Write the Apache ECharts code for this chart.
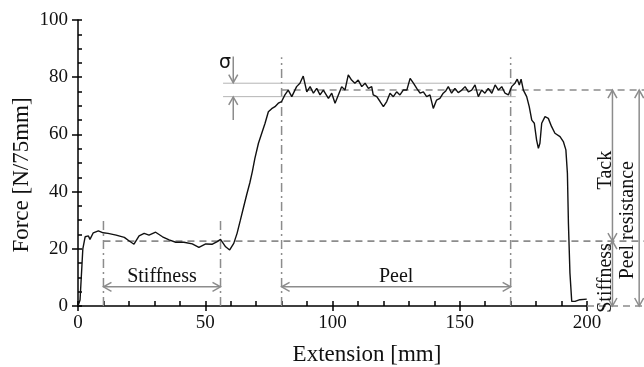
<!DOCTYPE html>
<html>
<head>
<meta charset="utf-8">
<script src="https://cdn.jsdelivr.net/npm/echarts@6/dist/echarts.min.js"></script>
<style>
  html, body { margin: 0; padding: 0; background: #fff; }
  #chart { width: 644px; height: 367px; }
</style>
</head>
<body>
<div id="chart"></div>
<script>
// peel test curve
const extension = [0, 0.8, 1.9, 2.8, 4.1, 4.7, 6, 8, 9.9, 11.8, 15, 18.2, 20, 22, 24, 26, 27.9, 30.5, 33.2, 35.8,
  38.4, 41.6, 44.9, 47.5, 50.2, 52.8, 54.7, 56, 58, 59.6, 61.2, 62.5, 63.8, 65.1, 66.3, 67.5, 68.5, 69.5, 70.9, 72.2,
  73.5, 74.8, 76.1, 77.4, 78.7, 80, 81.3, 82.6, 84, 85.9, 87.2, 88.5, 89.9, 91.2, 92.5, 93.8, 95.1, 96.4, 98.4, 99.7,
  101, 102.3, 103.6, 104.9, 106.2, 107.5, 108.8, 110.1, 111.5, 112.8, 114.1, 115.4, 116, 117.4, 118.7, 120, 121.3,
  122.6, 123.9, 125.2, 126.5, 127.8, 129.2, 130.5, 131.8, 133.1, 134.4, 135.7, 137, 138.3, 139.6, 140.9, 142.2, 143.5,
  144.5, 145.5, 146.8, 148.1, 149.4, 150.8, 152.1, 153.4, 154.7, 156, 157.3, 158.6, 159.9, 161.2, 162.6, 163.9, 165.2,
  166.5, 167.8, 169.1, 170.4, 171.7, 172.6, 173.4, 174.1, 175, 176.3, 177.3, 178.3, 179.3, 180.2, 180.9, 181.5, 182.2,
  183.5, 184.8, 186.1, 187.4, 189.4, 190.7, 191.7, 192.3, 192.7, 193.3, 194, 195.3, 197.2, 199.9]
const force = [0, 2.1, 20, 24.2, 24.5, 23.3, 25.6, 26.3, 25.6, 25.4, 24.8, 24, 22.8, 21.6, 24.5, 25.4, 24.8, 25.8, 24.2, 23.1,
  22.3, 22.3, 21.7, 20.5, 21.7, 21.6, 22.5, 23.3, 20.7, 19.6, 21.9, 25.4, 30, 34.7, 39, 43, 47, 51.6, 56.9, 60.4,
  63.9, 67.9, 69, 69.7, 70.9, 71.5, 73.8, 75.5, 73.2, 76.7, 77.9, 80.4, 74.9, 76.7, 74.4, 76.1, 73.8, 75.5, 72.6, 74.4,
  70.9, 73.8, 76.7, 75.5, 80.8, 79, 77.9, 79, 76.7, 77.9, 76.1, 76.7, 73.8, 73.2, 71.5, 69.7, 71.5,
  74.4, 73.2, 74.9, 73.8, 75.5, 75.5, 79.6, 77.9, 76.1, 74.4, 74.9, 73.2, 73.8, 69.1, 72, 72.6, 74.4,
  75.2, 76.7, 74.4, 76.1, 74.6, 75.5, 76.7, 74.9, 75.5, 77.3, 73.2, 75.5, 74.4, 76.1, 74.4, 77.3, 75.5,
  76.7, 74.4, 73.8, 76.7, 77.9, 79.3, 77.3, 79.3, 75.5, 73.2, 69.7, 65, 63.9, 58, 55.1, 56.9, 63.9,
  66.2, 65.6, 62.7, 60.4, 59.2, 57.5, 54.6, 46.4, 28.9, 11.5, 1.6, 1.6, 2.2, 2.4]

const xTicks = [0, 50, 100, 150, 200]
const yTicks = [0, 20, 40, 60, 80, 100]

// annotation levels and ranges: [x1, y1, x2, y2]
const dashedLines = [[10, 22.7, 224, 22.7], [80, 75.5, 224, 75.5], [200, 0, 224, 0]]
const dashDotLines = [[10, 0, 10, 31], [56, 0, 56, 31], [80, 0, 80, 87], [170, 0, 170, 87]]
const sigmaLines = [[57, 77.9, 172, 77.9], [57, 73.2, 172, 73.2]]
const rangeArrows = [[10, 6.7, 56, 6.7], [80, 6.7, 170, 6.7], [210, 75.5, 210, 22.7], [210, 22.7, 210, 0], [220.5, 75.5, 220.5, 0]]
const sigmaArrows = [[61, 87.2, 61, 78.1], [61, 65, 61, 73.1]]
// [text, x, y]
const flatLabels = [['Stiffness', 33, 10.3], ['Peel', 125, 10.3], ['σ', 57.8, 85]]
const uprightLabels = [['Tack', 207.3, 47.5], ['Stiffness', 207.3, 9.8], ['Peel resistance', 216.1, 30]]

const grey = '#8c8c8c'
const serif = '"Liberation Serif", "Times New Roman", serif'

function lineRender(style) {
  return function (params, api) {
    const a = api.coord([api.value(0), api.value(1)])
    const b = api.coord([api.value(2), api.value(3)])
    return {type: 'line', shape: {x1: a[0], y1: a[1], x2: b[0], y2: b[1]}, style: style}
  }
}

function head(tip, from) {
  const dx = tip[0] - from[0], dy = tip[1] - from[1]
  const len = Math.sqrt(dx * dx + dy * dy) || 1
  const ux = dx / len, uy = dy / len
  const L = 8, W = 4.5
  return {
    type: 'polyline',
    shape: {points: [[tip[0] - ux * L - uy * W, tip[1] - uy * L + ux * W], tip, [tip[0] - ux * L + uy * W, tip[1] - uy * L - ux * W]]},
    style: {stroke: grey, lineWidth: 1.5, fill: null}
  }
}

function arrowRender(both) {
  return function (params, api) {
    const a = api.coord([api.value(0), api.value(1)])
    const b = api.coord([api.value(2), api.value(3)])
    const kids = [{type: 'line', shape: {x1: a[0], y1: a[1], x2: b[0], y2: b[1]}, style: {stroke: grey, lineWidth: 1.5}}, head(b, a)]
    if (both) kids.push(head(a, b))
    return {type: 'group', children: kids}
  }
}

function labelRender(list, rotated) {
  return function (params, api) {
    const p = api.coord([api.value(0), api.value(1)])
    const txt = list[params.dataIndex][0]
    return {
      type: 'text', x: p[0], y: p[1], rotation: rotated ? Math.PI / 2 : 0,
      style: {
        text: txt, fill: '#111', align: 'center', verticalAlign: 'middle',
        font: (txt === 'σ' ? '19px "DejaVu Sans", sans-serif' : '20px ' + serif)
      }
    }
  }
}

const chart = echarts.init(document.getElementById('chart'))

chart.setOption({
  animation: false,
  backgroundColor: '#fff',
  grid: {left: 78, right: 57, top: 20, bottom: 61},
  xAxis: [{
    type: 'value', min: 0, max: 200, interval: 50, position: 'bottom',
    axisLine: {lineStyle: {color: '#000', width: 1.5}},
    axisTick: {length: 5, lineStyle: {color: '#000', width: 1.5}},
    axisLabel: {color: '#111', fontSize: 19, fontFamily: serif, margin: 8,
      formatter: v => xTicks.indexOf(v) >= 0 ? String(v) : ''},
    splitLine: {show: false}
  }, {
    type: 'value', min: 0, max: 200, interval: 10, position: 'bottom',
    axisLine: {show: false},
    axisTick: {inside: true, length: 5, lineStyle: {color: '#000', width: 1.5}},
    axisLabel: {show: false},
    splitLine: {show: false}
  }],
  yAxis: [{
    type: 'value', min: 0, max: 100, interval: 20, position: 'left',
    axisLine: {show: true, lineStyle: {color: '#000', width: 1.5}},
    axisTick: {show: true, length: 6, lineStyle: {color: '#000', width: 1.5}},
    axisLabel: {color: '#111', fontSize: 19, fontFamily: serif, margin: 10,
      formatter: v => yTicks.indexOf(v) >= 0 ? String(v) : ''},
    splitLine: {show: false}
  }, {
    type: 'value', min: 0, max: 100, interval: 5, position: 'left',
    axisLine: {show: false},
    axisTick: {show: true, inside: true, length: 4, lineStyle: {color: '#000', width: 1.5}},
    axisLabel: {show: false},
    splitLine: {show: false}
  }],
  graphic: [
    {type: 'text', x: 22, y: 175, rotation: Math.PI / 2,
      style: {text: 'Force [N/75mm]', font: '23px ' + serif, fill: '#111', align: 'center', verticalAlign: 'middle'}},
    {type: 'text', x: 367, y: 355,
      style: {text: 'Extension [mm]', font: '23px ' + serif, fill: '#111', align: 'center', verticalAlign: 'middle'}}
  ],
  series: [
    {type: 'custom', clip: false, silent: true, z: 1, data: dashedLines,
      renderItem: lineRender({stroke: grey, lineWidth: 1.6, lineDash: [7, 5]})},
    {type: 'custom', clip: false, silent: true, z: 1, data: dashDotLines,
      renderItem: lineRender({stroke: grey, lineWidth: 1.5, lineDash: [9, 4, 2, 4]})},
    {type: 'custom', clip: false, silent: true, z: 1, data: sigmaLines,
      renderItem: lineRender({stroke: '#b4b4b4', lineWidth: 1})},
    {type: 'custom', clip: false, silent: true, z: 1, data: rangeArrows, renderItem: arrowRender(true)},
    {type: 'custom', clip: false, silent: true, z: 1, data: sigmaArrows, renderItem: arrowRender(false)},
    {type: 'custom', clip: false, silent: true, z: 3, data: flatLabels.map(l => [l[1], l[2]]),
      renderItem: labelRender(flatLabels, false)},
    {type: 'custom', clip: false, silent: true, z: 3, data: uprightLabels.map(l => [l[1], l[2]]),
      renderItem: labelRender(uprightLabels, true)},
    {
      type: 'line', z: 2,
      data: extension.map((x, i) => [x, force[i]]),
      showSymbol: false, smooth: false,
      lineStyle: {color: '#111', width: 1.4}
    }
  ]
})
</script>
</body>
</html>
